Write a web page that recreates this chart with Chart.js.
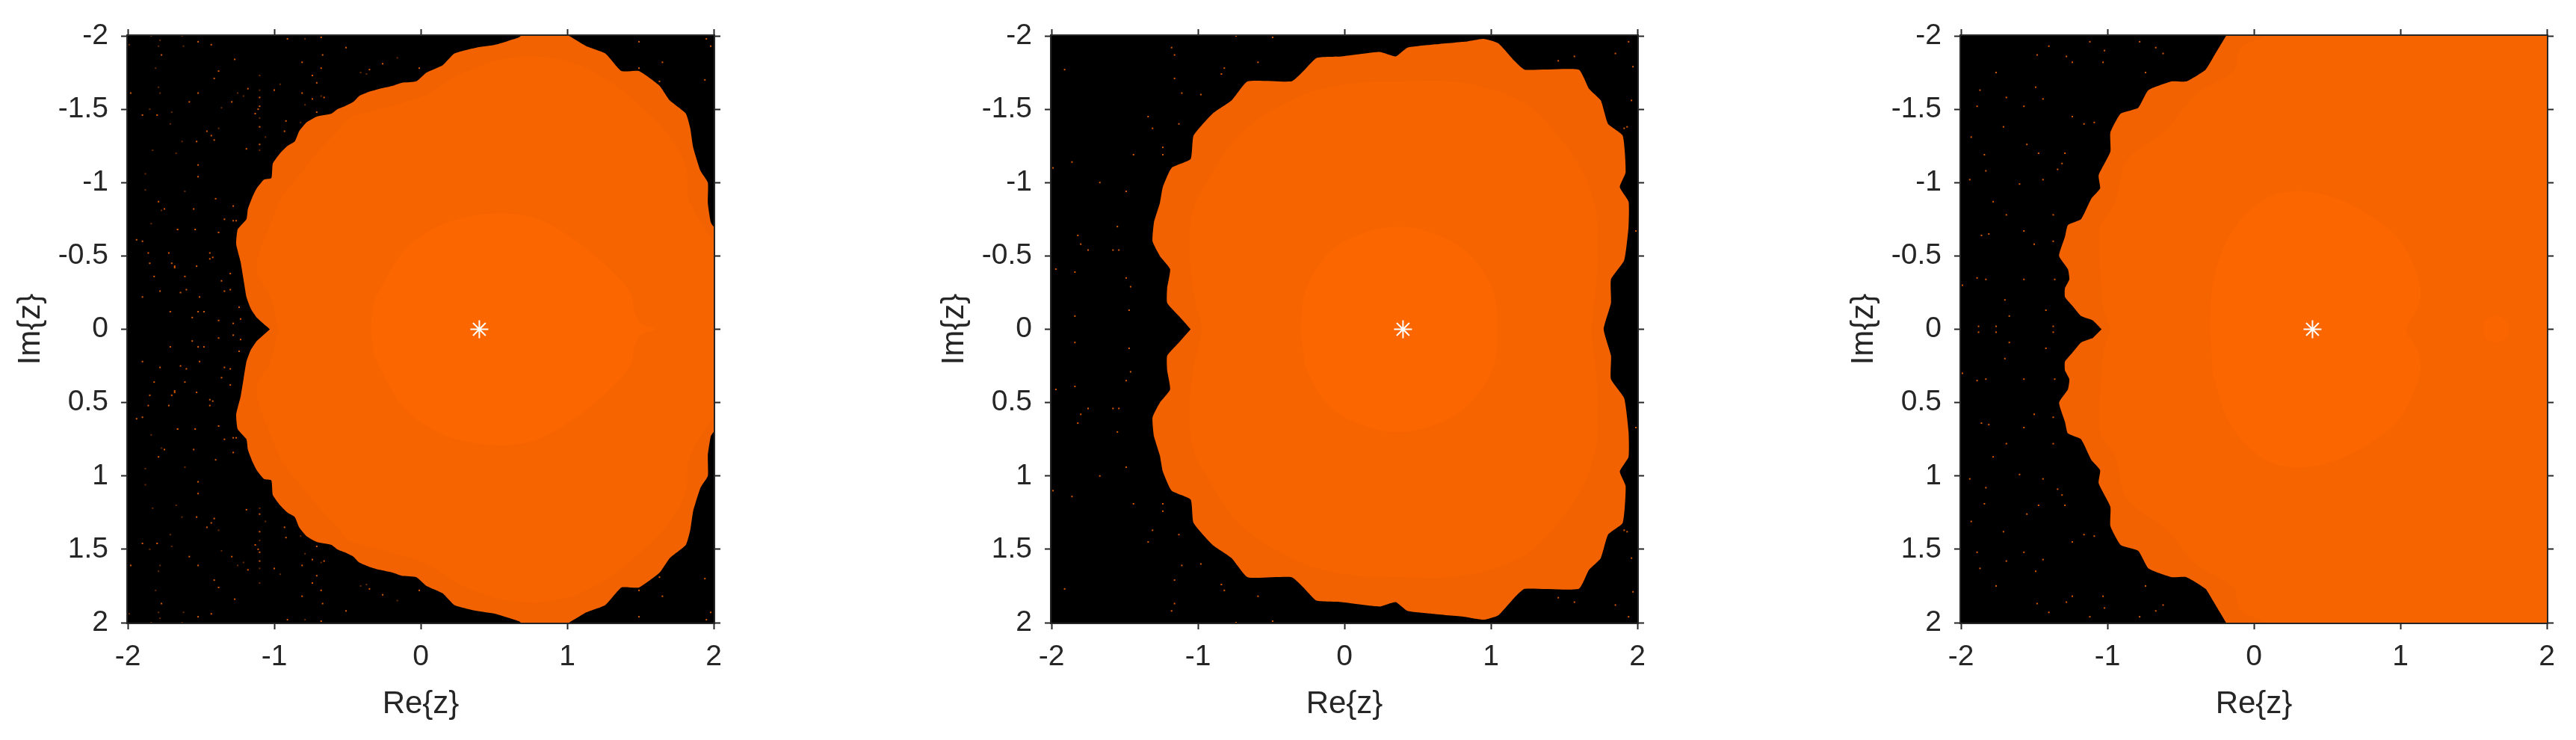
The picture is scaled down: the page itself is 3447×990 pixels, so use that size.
<!DOCTYPE html>
<html><head><meta charset="utf-8">
<script src="https://cdn.jsdelivr.net/npm/chart.js@4"></script>
<style>html,body{margin:0;padding:0;background:#fff;overflow:hidden}canvas{position:absolute;top:0}</style>
</head><body>
<canvas id="c0" style="left:0"></canvas><canvas id="c1" style="left:1236px"></canvas><canvas id="c2" style="left:2453px"></canvas>
<script>
const xTickValues=[-2,-1,0,1,2];
const yTickValues=[-2,-1.5,-1,-0.5,0,0.5,1,1.5,2];
const xAxisLabel='Re{z}', yAxisLabel='Im{z}';
const fixedPoint=[[0.4,0]];

const outerA=[[-1.03,0],[-1.12,-0.08],[-1.16,-0.14],[-1.19,-0.22],[-1.21,-0.34],[-1.23,-0.46],[-1.26,-0.58],[-1.25,-0.68],[-1.19,-0.75],[-1.18,-0.82],[-1.15,-0.9],[-1.12,-0.96],[-1.07,-1.02],[-1.02,-1.03],[-1.01,-1.13],[-0.96,-1.2],[-0.91,-1.25],[-0.86,-1.28],[-0.83,-1.35],[-0.78,-1.41],[-0.71,-1.45],[-0.61,-1.47],[-0.57,-1.5],[-0.52,-1.52],[-0.46,-1.55],[-0.42,-1.59],[-0.35,-1.62],[-0.28,-1.64],[-0.19,-1.66],[-0.13,-1.68],[-0.03,-1.69],[0.04,-1.75],[0.15,-1.8],[0.23,-1.88],[0.38,-1.92],[0.51,-1.94],[0.67,-1.99],[0.71,-2.02],[0.97,-2.02],[1.13,-1.93],[1.26,-1.88],[1.37,-1.76],[1.49,-1.76],[1.63,-1.66],[1.7,-1.56],[1.81,-1.47],[1.84,-1.37],[1.86,-1.24],[1.91,-1.08],[1.96,-1],[1.96,-0.86],[1.98,-0.73],[2,-0.7],[2.05,-0.69],[2.05,0.69],[2,0.7],[1.98,0.73],[1.96,0.86],[1.96,1],[1.91,1.08],[1.86,1.24],[1.84,1.37],[1.81,1.47],[1.7,1.56],[1.63,1.66],[1.49,1.76],[1.37,1.76],[1.26,1.88],[1.13,1.93],[0.97,2.02],[0.71,2.02],[0.67,1.99],[0.51,1.94],[0.38,1.92],[0.23,1.88],[0.15,1.8],[0.04,1.75],[-0.03,1.69],[-0.13,1.68],[-0.19,1.66],[-0.28,1.64],[-0.35,1.62],[-0.42,1.59],[-0.46,1.55],[-0.52,1.52],[-0.57,1.5],[-0.61,1.47],[-0.71,1.45],[-0.78,1.41],[-0.83,1.35],[-0.86,1.28],[-0.91,1.25],[-0.96,1.2],[-1.01,1.13],[-1.02,1.03],[-1.07,1.02],[-1.12,0.96],[-1.15,0.9],[-1.18,0.82],[-1.19,0.75],[-1.25,0.68],[-1.26,0.58],[-1.23,0.46],[-1.21,0.34],[-1.19,0.22],[-1.16,0.14],[-1.12,0.08]];
const middleA=[[-0.97,0],[-1.03,-0.23],[-1.12,-0.39],[-1.09,-0.56],[-1.02,-0.73],[-0.95,-0.9],[-0.83,-1.05],[-0.71,-1.2],[-0.57,-1.35],[-0.49,-1.44],[-0.21,-1.52],[0.04,-1.6],[0.25,-1.73],[0.54,-1.84],[0.8,-1.86],[1.03,-1.82],[1.29,-1.69],[1.49,-1.53],[1.68,-1.34],[1.81,-1.11],[1.83,-0.89],[2,-0.6],[2.05,-0.6],[2.05,0.6],[2,0.6],[1.83,0.89],[1.81,1.11],[1.68,1.34],[1.49,1.53],[1.29,1.69],[1.03,1.82],[0.8,1.86],[0.54,1.84],[0.25,1.73],[0.04,1.6],[-0.21,1.52],[-0.49,1.44],[-0.57,1.35],[-0.71,1.2],[-0.83,1.05],[-0.95,0.9],[-1.02,0.73],[-1.09,0.56],[-1.12,0.39],[-1.03,0.23]];
const innerA=[[-0.34,0],[-0.32,-0.18],[-0.24,-0.34],[-0.11,-0.54],[0.06,-0.67],[0.25,-0.75],[0.54,-0.79],[0.8,-0.75],[1.06,-0.6],[1.29,-0.41],[1.43,-0.25],[1.46,-0.12],[1.5,-0.04],[1.6,0],[1.5,0.04],[1.46,0.12],[1.43,0.25],[1.29,0.41],[1.06,0.6],[0.8,0.75],[0.54,0.79],[0.25,0.75],[0.06,0.67],[-0.11,0.54],[-0.24,0.34],[-0.32,0.18]];
const specklesA=[[-1.94,-0.61],[-1.9,-0.6],[-1.66,-0.68],[-1.54,-0.68],[-1.38,-0.66],[-1.86,-0.52],[-1.72,-0.52],[-1.44,-0.52],[-1.42,-0.49],[-1.44,-0.48],[-1.85,-0.45],[-1.7,-0.45],[-1.68,-0.43],[-1.68,-0.42],[-1.53,-0.43],[-1.82,-0.36],[-1.61,-0.36],[-1.3,-0.38],[-1.36,-0.33],[-1.78,-0.26],[-1.64,-0.25],[-1.6,-0.27],[-1.34,-0.26],[-1.3,-0.27],[-1.9,-0.22],[-1.51,-0.22],[-1.24,-0.15],[-1.71,-0.12],[-1.52,-0.12],[-1.48,-0.12],[-1.56,-0.08],[-1.38,-0.06],[-1.23,-0.07],[-1.28,-0.04],[-1.77,-1.87],[-1.52,-1.96],[-1.43,-1.94],[-1.27,-1.84],[-1.38,-1.76],[-1.41,-1.71],[-1.98,-1.61],[-1.52,-1.61],[-1.58,-1.55],[-1.29,-1.55],[-1.18,-1.64],[-1.1,-1.58],[-1,-1.63],[-1.1,-1.52],[-1.11,-1.5],[-1.13,-1.47],[-1.9,-1.46],[-1.8,-1.46],[-1.46,-1.35],[-1.43,-1.32],[-1.41,-1.29],[-1.1,-1.38],[-0.92,-1.42],[-0.93,-1.35],[-1.1,-1.26],[-1.19,-1.23],[-1.53,-1.28],[-1.52,-1.12],[-1.52,-1.04],[-1.4,-0.89],[-1.79,-0.87],[-1.75,-0.82],[-1.55,-0.82],[-1.28,-0.84],[-1.34,-0.75],[-1.26,-0.74],[-1.28,-0.74],[-0.91,-1.98],[-0.68,-1.99],[-0.51,-1.92],[-0.67,-1.87],[-0.81,-1.82],[-0.68,-1.78],[-0.74,-1.73],[-0.71,-1.68],[-0.81,-1.61],[-0.74,-1.57],[-0.66,-1.58],[-0.71,-1.48],[-0.01,-1.78],[-0.35,-1.77],[-0.26,-1.81],[1.49,-1.96],[1.95,-1.98],[1.98,-1.93],[1.65,-1.82],[1.49,-1.78],[1.63,-1.69],[1.94,-1.7],
[-1.94,0.61],[-1.9,0.6],[-1.66,0.68],[-1.54,0.68],[-1.38,0.66],[-1.86,0.52],[-1.72,0.52],[-1.44,0.52],[-1.42,0.49],[-1.44,0.48],[-1.85,0.45],[-1.7,0.45],[-1.68,0.43],[-1.68,0.42],[-1.53,0.43],[-1.82,0.36],[-1.61,0.36],[-1.3,0.38],[-1.36,0.33],[-1.78,0.26],[-1.64,0.25],[-1.6,0.27],[-1.34,0.26],[-1.3,0.27],[-1.9,0.22],[-1.51,0.22],[-1.24,0.15],[-1.71,0.12],[-1.52,0.12],[-1.48,0.12],[-1.56,0.08],[-1.38,0.06],[-1.23,0.07],[-1.28,0.04],[-1.77,1.87],[-1.52,1.96],[-1.43,1.94],[-1.27,1.84],[-1.38,1.76],[-1.41,1.71],[-1.98,1.61],[-1.52,1.61],[-1.58,1.55],[-1.29,1.55],[-1.18,1.64],[-1.1,1.58],[-1,1.63],[-1.1,1.52],[-1.11,1.5],[-1.13,1.47],[-1.9,1.46],[-1.8,1.46],[-1.46,1.35],[-1.43,1.32],[-1.41,1.29],[-1.1,1.38],[-0.92,1.42],[-0.93,1.35],[-1.1,1.26],[-1.19,1.23],[-1.53,1.28],[-1.52,1.12],[-1.52,1.04],[-1.4,0.89],[-1.79,0.87],[-1.75,0.82],[-1.55,0.82],[-1.28,0.84],[-1.34,0.75],[-1.26,0.74],[-1.28,0.74],[-0.91,1.98],[-0.68,1.99],[-0.51,1.92],[-0.67,1.87],[-0.81,1.82],[-0.68,1.78],[-0.74,1.73],[-0.71,1.68],[-0.81,1.61],[-0.74,1.57],[-0.66,1.58],[-0.71,1.48],[-0.01,1.78],[-0.35,1.77],[-0.26,1.81],[1.49,1.96],[1.95,1.98],[1.98,1.93],[1.65,1.82],[1.49,1.78],[1.63,1.69],[1.94,1.7]];
const faintA=[[-1.84,-2],[-1.78,-1.97],[-1.63,-2],[-1.99,-1.94],[-1.62,-1.93],[-1.79,-1.93],[-1.81,-1.78],[-1.1,-1.73],[-0.96,-1.67],[-1.1,-1.63],[-1.25,-1.61],[-1.21,-1.59],[-1.79,-1.65],[-1.78,-1.61],[-1.36,-1.51],[-1.85,-1.5],[-1.7,-1.48],[-1.71,-1.4],[-1.38,-1.37],[-1.06,-1.31],[-1.63,-1.28],[-1.83,-1.22],[-1.67,-1.2],[-1.1,-1.22],[-1.88,-1.06],[-1.88,-0.95],[-1.61,-0.94],[-1.77,-0.81],[-1.84,-0.72],[-1.66,-0.68],[-1.54,-0.68],[-0.79,-1.98],[-0.41,-1.75],[-0.16,-1.85],[-0.37,-1.74],[-0.82,-1.41],[-0.68,-1.59],[-0.79,-1.53],[-1.1,-1.44],
[-1.84,2],[-1.78,1.97],[-1.63,2],[-1.99,1.94],[-1.62,1.93],[-1.79,1.93],[-1.81,1.78],[-1.1,1.73],[-0.96,1.67],[-1.1,1.63],[-1.25,1.61],[-1.21,1.59],[-1.79,1.65],[-1.78,1.61],[-1.36,1.51],[-1.85,1.5],[-1.7,1.48],[-1.71,1.4],[-1.38,1.37],[-1.06,1.31],[-1.63,1.28],[-1.83,1.22],[-1.67,1.2],[-1.1,1.22],[-1.88,1.06],[-1.88,0.95],[-1.61,0.94],[-1.77,0.81],[-1.84,0.72],[-1.66,0.68],[-1.54,0.68],[-0.79,1.98],[-0.41,1.75],[-0.16,1.85],[-0.37,1.74],[-0.82,1.41],[-0.68,1.59],[-0.79,1.53],[-1.1,1.44]];

const outerB=[[-1.05,0],[-1.13,-0.09],[-1.21,-0.18],[-1.21,-0.28],[-1.19,-0.41],[-1.26,-0.5],[-1.31,-0.6],[-1.3,-0.73],[-1.26,-0.86],[-1.24,-0.97],[-1.18,-1.1],[-1.05,-1.16],[-1.03,-1.32],[-0.9,-1.47],[-0.77,-1.56],[-0.66,-1.69],[-0.36,-1.69],[-0.28,-1.76],[-0.19,-1.85],[-0.02,-1.86],[0.24,-1.89],[0.35,-1.86],[0.43,-1.92],[0.6,-1.94],[0.82,-1.96],[0.95,-1.98],[1.05,-1.95],[1.16,-1.83],[1.23,-1.77],[1.6,-1.77],[1.67,-1.64],[1.75,-1.56],[1.8,-1.4],[1.9,-1.32],[1.92,-1.07],[1.88,-0.97],[1.94,-0.87],[1.94,-0.7],[1.91,-0.47],[1.82,-0.34],[1.82,-0.18],[1.77,0],[1.82,0.18],[1.82,0.34],[1.91,0.47],[1.94,0.7],[1.94,0.87],[1.88,0.97],[1.92,1.07],[1.9,1.32],[1.8,1.4],[1.75,1.56],[1.67,1.64],[1.6,1.77],[1.23,1.77],[1.16,1.83],[1.05,1.95],[0.95,1.98],[0.82,1.96],[0.6,1.94],[0.43,1.92],[0.35,1.86],[0.24,1.89],[-0.02,1.86],[-0.19,1.85],[-0.28,1.76],[-0.36,1.69],[-0.66,1.69],[-0.77,1.56],[-0.9,1.47],[-1.03,1.32],[-1.05,1.16],[-1.18,1.1],[-1.24,0.97],[-1.26,0.86],[-1.3,0.73],[-1.31,0.6],[-1.26,0.5],[-1.19,0.41],[-1.21,0.28],[-1.21,0.18],[-1.13,0.09]];
const middleB=[[-0.97,0],[-1.03,-0.25],[-1.06,-0.57],[-1.03,-0.83],[-0.93,-1.02],[-0.77,-1.27],[-0.58,-1.44],[-0.25,-1.61],[0.08,-1.68],[0.4,-1.69],[0.73,-1.69],[0.99,-1.64],[1.25,-1.53],[1.47,-1.31],[1.64,-1.05],[1.72,-0.79],[1.73,-0.54],[1.72,-0.31],[1.69,0],[1.72,0.31],[1.73,0.54],[1.72,0.79],[1.64,1.05],[1.47,1.31],[1.25,1.53],[0.99,1.64],[0.73,1.69],[0.4,1.69],[0.08,1.68],[-0.25,1.61],[-0.58,1.44],[-0.77,1.27],[-0.93,1.02],[-1.03,0.83],[-1.06,0.57],[-1.03,0.25]];
const innerB=[[-0.3,0],[-0.27,-0.25],[-0.15,-0.47],[0.04,-0.62],[0.37,-0.7],[0.69,-0.62],[0.89,-0.47],[1.02,-0.25],[1.04,0],[1.02,0.25],[0.89,0.47],[0.69,0.62],[0.37,0.7],[0.04,0.62],[-0.15,0.47],[-0.27,0.25]];
const specklesB=[[-1.18,-1.92],[-1.16,-1.87],[-1.91,-1.77],[-0.74,-2],[-0.49,-1.99],[-0.59,-1.82],[-0.82,-1.78],[-0.84,-1.74],[-1.16,-1.71],[-0.98,-1.6],[-1.11,-1.61],[-1.34,-1.45],[-1.31,-1.37],[-1.13,-1.4],[-1.44,-1.19],[-1.24,-1.24],[-1.24,-1.19],[-1.86,-1.14],[-1.99,-1.1],[-1.67,-1],[-1.49,-0.94],[-1.55,-0.7],[-1.82,-0.64],[-1.8,-0.58],[-1.75,-0.54],[-1.58,-0.54],[-1.54,-0.54],[-1.97,-0.41],[-1.84,-0.39],[-1.49,-0.35],[-1.46,-0.29],[-1.47,-0.13],[-1.84,-0.09],[1.94,-1.96],[1.85,-1.88],[1.46,-1.83],[1.57,-1.86],[1.97,-1.79],[1.96,-1.56],[1.93,-1.38],[1.91,-1.37],[1.99,-0.67],
[-1.18,1.92],[-1.16,1.87],[-1.91,1.77],[-0.74,2],[-0.49,1.99],[-0.59,1.82],[-0.82,1.78],[-0.84,1.74],[-1.16,1.71],[-0.98,1.6],[-1.11,1.61],[-1.34,1.45],[-1.31,1.37],[-1.13,1.4],[-1.44,1.19],[-1.24,1.24],[-1.24,1.19],[-1.86,1.14],[-1.99,1.1],[-1.67,1],[-1.49,0.94],[-1.55,0.7],[-1.82,0.64],[-1.8,0.58],[-1.75,0.54],[-1.58,0.54],[-1.54,0.54],[-1.97,0.41],[-1.84,0.39],[-1.49,0.35],[-1.46,0.29],[-1.47,0.13],[-1.84,0.09],[1.94,1.96],[1.85,1.88],[1.46,1.83],[1.57,1.86],[1.97,1.79],[1.96,1.56],[1.93,1.38],[1.91,1.37],[1.99,0.67]];

const outerC=[[-1.04,0],[-1.1,-0.06],[-1.18,-0.09],[-1.24,-0.16],[-1.29,-0.22],[-1.29,-0.28],[-1.26,-0.34],[-1.27,-0.41],[-1.33,-0.5],[-1.29,-0.63],[-1.27,-0.71],[-1.18,-0.75],[-1.11,-0.89],[-1.05,-0.96],[-1.06,-1.05],[-0.98,-1.21],[-0.98,-1.34],[-0.91,-1.47],[-0.79,-1.51],[-0.72,-1.63],[-0.56,-1.69],[-0.46,-1.69],[-0.33,-1.77],[-0.28,-1.85],[-0.19,-2],[-0.17,-2.03],[2.05,-2.03],[2.05,2.03],[-0.17,2.03],[-0.19,2],[-0.28,1.85],[-0.33,1.77],[-0.46,1.69],[-0.56,1.69],[-0.72,1.63],[-0.79,1.51],[-0.91,1.47],[-0.98,1.34],[-0.98,1.21],[-1.06,1.05],[-1.05,0.96],[-1.11,0.89],[-1.18,0.75],[-1.27,0.71],[-1.29,0.63],[-1.33,0.5],[-1.27,0.41],[-1.26,0.34],[-1.29,0.28],[-1.29,0.22],[-1.24,0.16],[-1.18,0.09],[-1.1,0.06]];
const middleC=[[-0.98,0],[-1.03,-0.15],[-1.05,-0.44],[-1.05,-0.7],[-0.95,-0.86],[-0.87,-1.15],[-0.59,-1.37],[-0.4,-1.6],[-0.14,-1.76],[-0.09,-1.92],[0.08,-2],[0.09,-2.03],[2.05,-2.03],[2.05,2.03],[0.09,2.03],[0.08,2],[-0.09,1.92],[-0.14,1.76],[-0.4,1.6],[-0.59,1.37],[-0.87,1.15],[-0.95,0.86],[-1.05,0.7],[-1.05,0.44],[-1.03,0.15]];
const innerC=[[-0.3,0],[-0.28,-0.31],[-0.17,-0.63],[0.03,-0.86],[0.25,-0.94],[0.51,-0.91],[0.77,-0.79],[1,-0.6],[1.13,-0.31],[1.12,-0.15],[1.04,0],[1.12,0.15],[1.13,0.31],[1,0.6],[0.77,0.79],[0.51,0.91],[0.25,0.94],[0.03,0.86],[-0.17,0.63],[-0.28,0.31]];
const basinDotC=[[1.56,0],[1.585,-0.065],[1.65,-0.092],[1.715,-0.065],[1.74,0],[1.715,0.065],[1.65,0.092],[1.585,0.065]];
const specklesC=[[-1.4,-1.93],[-1.28,-1.86],[-1.12,-1.96],[-1.02,-1.9],[-0.78,-1.96],[-0.67,-1.92],[-1.48,-1.87],[-1.24,-1.82],[-1.03,-1.82],[-0.74,-1.75],[-0.62,-1.88],[-1.76,-1.75],[-1.87,-1.63],[-1.49,-1.65],[-1.69,-1.58],[-1.57,-1.52],[-1.44,-1.57],[-1.24,-1.45],[-1.09,-1.41],[-1.16,-1.4],[-1.89,-1.52],[-1.71,-1.38],[-1.93,-1.31],[-1.55,-1.26],[-1.29,-1.2],[-1.84,-1.19],[-1.47,-1.2],[-1.31,-1.13],[-1.34,-1.09],[-1.94,-1.02],[-1.83,-1.08],[-1.6,-0.99],[-1.44,-1.02],[-1.78,-0.87],[-1.69,-0.78],[-1.37,-0.78],[-1.86,-0.64],[-1.81,-0.65],[-1.57,-0.67],[-1.5,-0.58],[-1.37,-0.6],[-1.89,-0.35],[-1.99,-0.3],[-1.83,-0.34],[-1.7,-0.2],[-1.57,-0.34],[-1.36,-0.34],[-1.42,-0.13],[-1.67,-0.09],[-1.88,-0.02],[-1.76,-0.02],[-1.37,-0.02],
[-1.4,1.93],[-1.28,1.86],[-1.12,1.96],[-1.02,1.9],[-0.78,1.96],[-0.67,1.92],[-1.48,1.87],[-1.24,1.82],[-1.03,1.82],[-0.74,1.75],[-0.62,1.88],[-1.76,1.75],[-1.87,1.63],[-1.49,1.65],[-1.69,1.58],[-1.57,1.52],[-1.44,1.57],[-1.24,1.45],[-1.09,1.41],[-1.16,1.4],[-1.89,1.52],[-1.71,1.38],[-1.93,1.31],[-1.55,1.26],[-1.29,1.2],[-1.84,1.19],[-1.47,1.2],[-1.31,1.13],[-1.34,1.09],[-1.94,1.02],[-1.83,1.08],[-1.6,0.99],[-1.44,1.02],[-1.78,0.87],[-1.69,0.78],[-1.37,0.78],[-1.86,0.64],[-1.81,0.65],[-1.57,0.67],[-1.5,0.58],[-1.37,0.6],[-1.89,0.35],[-1.99,0.3],[-1.83,0.34],[-1.7,0.2],[-1.57,0.34],[-1.36,0.34],[-1.42,0.13],[-1.67,0.09],[-1.88,0.02],[-1.76,0.02],[-1.37,0.02]];

const INK='#262626', OUTER='#F26200', MIDDLE='#F66400', INNER='#FB6600', SPECK='#DC5A00', FAINT='#6A2B00';
const FONT='"Liberation Sans", Arial, sans-serif';
const pts=a=>a.map(([x,y])=>({x,y}));
const region=(a,color,tension)=>({data:pts(a),showLine:true,fill:'shape',backgroundColor:color,borderWidth:0,borderColor:color,pointRadius:0,tension});
const dots=(a,color)=>({data:pts(a),pointStyle:'rect',pointRadius:1.4,pointBackgroundColor:color,pointBorderWidth:0,showLine:false});

const framePlugin={id:'frame',
  beforeDraw(c){const {left,top,width,height}=c.chartArea,g=c.ctx;g.save();g.fillStyle='#000';g.fillRect(left-1,top-1,width+2,height+2);g.restore();},
  afterDatasetsDraw(c){const {left,top,width,height}=c.chartArea,g=c.ctx;g.save();g.strokeStyle=INK;g.lineWidth=2;g.strokeRect(left-1,top-1,width+2,height+2);g.restore();}};

const grid={drawOnChartArea:false,drawTicks:true,tickLength:9,tickWidth:2,tickColor:INK};
const setTicks=v=>s=>{s.ticks=v.map(value=>({value}));};
const fix=(k,v)=>s=>{s[k]=v;};
function scales(){return{
  x:{type:'linear',position:'bottom',min:-2,max:2,grid,border:{display:false},afterBuildTicks:setTicks(xTickValues),afterFit:fix('height',157),
     ticks:{color:INK,padding:18,maxRotation:0,autoSkip:false,font:{family:FONT,size:39,lineHeight:1},callback:v=>String(v)},
     title:{display:true,text:xAxisLabel,color:INK,font:{family:FONT,size:42,lineHeight:1},padding:{top:0,bottom:27}}},
  y:{type:'linear',position:'left',min:-2,max:2,reverse:true,grid,border:{display:false},afterBuildTicks:setTicks(yTickValues),afterFit:fix('width',171),
     ticks:{color:INK,padding:17,autoSkip:false,font:{family:FONT,size:39,lineHeight:1},callback:v=>String(v)},
     title:{display:true,text:yAxisLabel,color:INK,font:{family:FONT,size:42,lineHeight:1},padding:{top:20,bottom:0}}},
  x2:{type:'linear',position:'top',min:-2,max:2,grid,border:{display:false},afterBuildTicks:setTicks(xTickValues),afterFit:fix('height',48),ticks:{display:false}},
  y2:{type:'linear',position:'right',min:-2,max:2,reverse:true,grid,border:{display:false},afterBuildTicks:setTicks(yTickValues),afterFit:fix('width',30),ticks:{display:false}}
};}
function draw(id,outer,middle,inner,speck,faint,extra){
  // Chart.js paints the last dataset first, so the list runs from top layer to bottom layer.
  const ds=[{data:pts(fixedPoint),pointStyle:'star',pointRadius:12,pointBorderColor:'#fff',pointBorderWidth:2,pointBackgroundColor:'#fff',showLine:false},dots(speck,SPECK)];
  if(faint) ds.push(dots(faint,FAINT));
  if(extra) ds.push(region(extra,'#FA6500',0.3));
  ds.push(region(inner,INNER,0.35),region(middle,MIDDLE,0.3),region(outer,OUTER,0.15));
  const el=document.getElementById(id);el.width=985;el.height=990;
  new Chart(el,{type:'scatter',data:{datasets:ds},plugins:[framePlugin],
    options:{responsive:false,animation:false,devicePixelRatio:1,layout:{padding:0},
      plugins:{legend:{display:false},title:{display:false},tooltip:{enabled:false}},scales:scales()}});
}
draw('c0',outerA,middleA,innerA,specklesA,faintA);
draw('c1',outerB,middleB,innerB,specklesB);
draw('c2',outerC,middleC,innerC,specklesC,null,basinDotC);
</script></body></html>
